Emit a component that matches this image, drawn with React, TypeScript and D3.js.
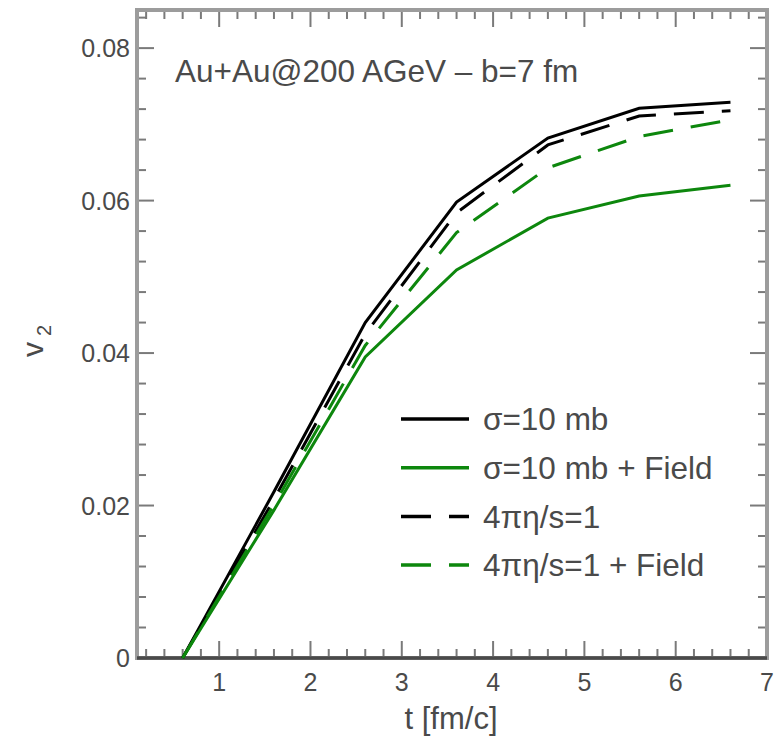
import React from "react";
import * as d3 from "d3";

const times = [0.6, 1.6, 2.6, 3.6, 4.6, 5.6, 6.6];
const sigmaValues = [0, 0.0218, 0.0440, 0.0598, 0.0682, 0.0721, 0.0729];
const sigmaFieldValues = [0, 0.0194, 0.0395, 0.0509, 0.0577, 0.0606, 0.0620];
const etaValues = [0, 0.0208, 0.0425, 0.0584, 0.0673, 0.0711, 0.0718];
const etaFieldValues = [0, 0.0201, 0.0410, 0.0558, 0.0643, 0.0684, 0.0706];

const seriesNames = ["σ=10 mb", "σ=10 mb + Field", "4πη/s=1", "4πη/s=1 + Field"];
const xTickLabels = ["1", "2", "3", "4", "5", "6", "7"];
const yTickLabels = ["0", "0.02", "0.04", "0.06", "0.08"];
const annotation = "Au+Au@200 AGeV – b=7 fm";

const W = 779;
const H = 736;
const FONT = "'Liberation Sans', Arial, Helvetica, sans-serif";

export default function App() {
  const x = d3.scaleLinear().domain([0.1, 7]).range([137, 767]);
  const y = d3.scaleLinear().domain([0, 0.085]).range([658, 10]);
  const [x0, x1] = x.range();
  const [y0, y1] = y.range();

  const series = [
    { name: seriesNames[0], values: sigmaValues, color: "#000000", dash: null },
    { name: seriesNames[2], values: etaValues, color: "#000000", dash: "30,18" },
    { name: seriesNames[1], values: sigmaFieldValues, color: "#0d870d", dash: null },
    { name: seriesNames[3], values: etaFieldValues, color: "#0d870d", dash: "30,18" },
  ];
  const legendOrder = [series[0], series[2], series[1], series[3]];

  const line = d3
    .line<number>()
    .x((_, i) => x(times[i]))
    .y((d) => y(d));

  const xMinor = d3.range(0.2, 7.001, 0.2).map((v) => +v.toFixed(1));
  const yMinor = d3.range(0, 0.0851, 0.004).map((v) => +v.toFixed(3));
  const isMajorX = (v: number) => Math.abs(v - Math.round(v)) < 1e-6;
  const isMajorY = (v: number) => Math.abs(v / 0.02 - Math.round(v / 0.02)) < 1e-6;

  const tickColor = "#7a7a7a";

  return (
    <svg
      width={W}
      height={H}
      style={{ position: "absolute", left: 0, top: 0, background: "#fff" }}
      fontFamily={FONT}
    >
      <rect x={0} y={0} width={W} height={H} fill="#fff" />
      {xMinor.map((v) => {
        const len = isMajorX(v) ? 17 : 9;
        return (
          <g key={"xt" + v} stroke={tickColor} strokeWidth={2}>
            <line x1={x(v)} x2={x(v)} y1={y0} y2={y0 - len} />
            <line x1={x(v)} x2={x(v)} y1={y1} y2={y1 + len} />
          </g>
        );
      })}
      {yMinor.map((v) => {
        const len = isMajorY(v) ? 17 : 9;
        return (
          <g key={"yt" + v} stroke={tickColor} strokeWidth={2}>
            <line x1={x0} x2={x0 + len} y1={y(v)} y2={y(v)} />
            <line x1={x1} x2={x1 - len} y1={y(v)} y2={y(v)} />
          </g>
        );
      })}
      <rect
        x={x0}
        y={y1}
        width={x1 - x0}
        height={y0 - y1}
        fill="none"
        stroke="#9c9c9c"
        strokeWidth={4}
      />
      <line x1={x0} x2={x1} y1={y0} y2={y0} stroke="#4a4a4a" strokeWidth={3.5} />

      {series.map((s) => (
        <path
          key={s.name}
          d={line(s.values) || ""}
          fill="none"
          stroke={s.color}
          strokeWidth={3}
          strokeDasharray={s.dash || undefined}
          strokeLinejoin="miter"
        />
      ))}

      {xTickLabels.map((t) => (
        <text
          key={"xl" + t}
          x={x(+t)}
          y={691}
          textAnchor="middle"
          fontSize={25}
          fill="#4a4a4a"
        >
          {t}
        </text>
      ))}
      {yTickLabels.map((t) => (
        <text
          key={"yl" + t}
          x={130}
          y={y(+t)}
          dy="0.36em"
          textAnchor="end"
          fontSize={25}
          fill="#4a4a4a"
        >
          {t}
        </text>
      ))}

      <text x={451} y={729} textAnchor="middle" fontSize={31} fill="#4a4a4a">
        t [fm/c]
      </text>
      <text transform="translate(43,357) rotate(-90)" fontSize={30} fill="#4a4a4a">
        v
        <tspan fontSize={20} dy={8} dx={6}>
          2
        </tspan>
      </text>

      <text x={175} y={82} fontSize={31.5} fill="#4a4a4a">
        {annotation}
      </text>

      {legendOrder.map((s, i) => {
        const ly = 419 + i * 48.7;
        return (
          <g key={"lg" + s.name}>
            <line
              x1={401}
              x2={469}
              y1={ly}
              y2={ly}
              stroke={s.color}
              strokeWidth={3.5}
              strokeDasharray={s.dash || undefined}
            />
            <text x={483} y={ly} dy="0.36em" fontSize={31.5} fill="#4a4a4a">
              {s.name}
            </text>
          </g>
        );
      })}
    </svg>
  );
}
